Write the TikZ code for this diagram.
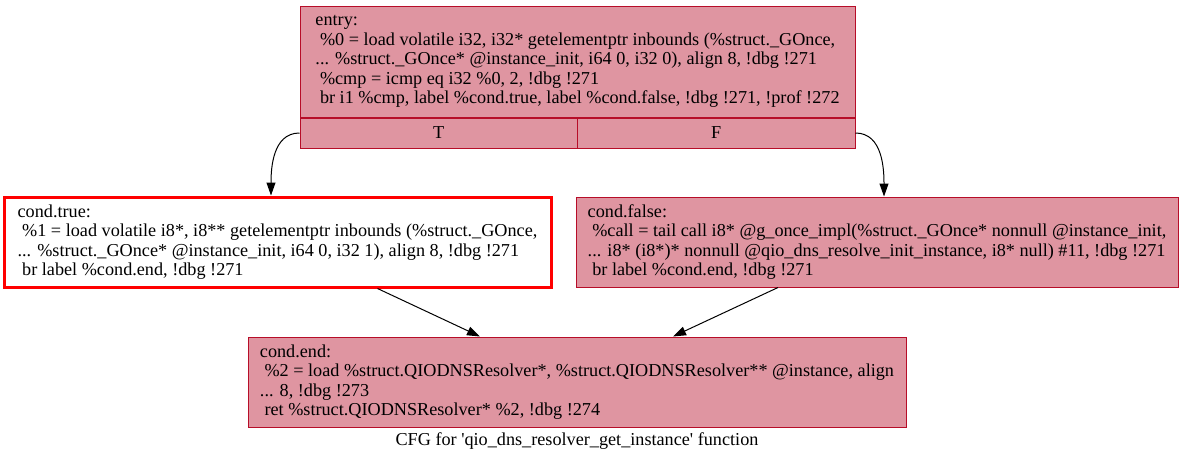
\documentclass[tikz,border=0pt]{standalone}
\usepackage{fontspec}
\setmainfont{Liberation Serif}
\usetikzlibrary{arrows.meta}
\definecolor{bbfill}{RGB}{223,149,161}
\definecolor{bbline}{RGB}{183,13,40}
\newcommand{\ind}{\hspace*{0.25em}}
\begin{document}
\begin{tikzpicture}[x=1pt,y=-1pt,
  bb/.style={draw=bbline, fill=bbfill, line width=1pt, align=left, inner xsep=10.5pt, inner ysep=4pt, font=\fontsize{18.2}{19.5}\selectfont},
  bbport/.style={draw=bbline, fill=bbfill, line width=1pt, minimum width=277.5pt, minimum height=30pt, inner sep=0pt, font=\fontsize{18.2}{19.5}\selectfont},
  edge/.style={-{Triangle[length=13pt,width=9pt]}, line width=1pt}]
\useasboundingbox (0,0) rectangle (1185,464);
\node[bb, minimum width=555pt, minimum height=111pt] (bb0) at (577.5,61.5){entry:\\
\ind\%0 = load volatile i32, i32* getelementptr inbounds (\%struct.\_GOnce,\\
... \%struct.\_GOnce* @instance\_init, i64 0, i32 0), align 8, !dbg !271\\
\ind\%cmp = icmp eq i32 \%0, 2, !dbg !271\\
\ind br i1 \%cmp, label \%cond.true, label \%cond.false, !dbg !271, !prof !272};
\node[bbport, anchor=north west] (bb0t) at (bb0.south west){T};
\node[bbport, anchor=north east] (bb0f) at (bb0.south east){F};
\node[bb, draw=red, fill=white, line width=3pt, minimum width=547pt, minimum height=90pt] (bb1) at (277.5,242){cond.true:\\
\ind\%1 = load volatile i8*, i8** getelementptr inbounds (\%struct.\_GOnce,\\
... \%struct.\_GOnce* @instance\_init, i64 0, i32 1), align 8, !dbg !271\\
\ind br label \%cond.end, !dbg !271};
\node[bb, minimum width=602pt, minimum height=90pt] (bb2) at (877,242){cond.false:\\
\ind\%call = tail call i8* @g\_once\_impl(\%struct.\_GOnce* nonnull @instance\_init,\\
... i8* (i8*)* nonnull @qio\_dns\_resolve\_init\_instance, i8* null) \#11, !dbg !271\\
\ind br label \%cond.end, !dbg !271};
\node[bb, minimum width=658pt, minimum height=90pt] (bb3) at (577,382){cond.end:\\
\ind\%2 = load \%struct.QIODNSResolver*, \%struct.QIODNSResolver** @instance, align\\
... 8, !dbg !273\\
\ind ret \%struct.QIODNSResolver* \%2, !dbg !274};
\node[font=\fontsize{18.2}{19.5}\selectfont] (cap) at (577,441){CFG for \textquotesingle qio\_dns\_resolver\_get\_instance\textquotesingle{} function};
\draw[edge] (bb0t.west) to[out=180, in=90] ([xshift=-6.5pt]bb1.north);
\draw[edge] (bb0f.east) to[out=0, in=90] ([xshift=7pt]bb2.north);
\draw[edge] ([xshift=100pt]bb1.south) -- ([xshift=-97pt]bb3.north);
\draw[edge] ([xshift=-99pt]bb2.south) -- ([xshift=96pt]bb3.north);
\end{tikzpicture}
\end{document}
